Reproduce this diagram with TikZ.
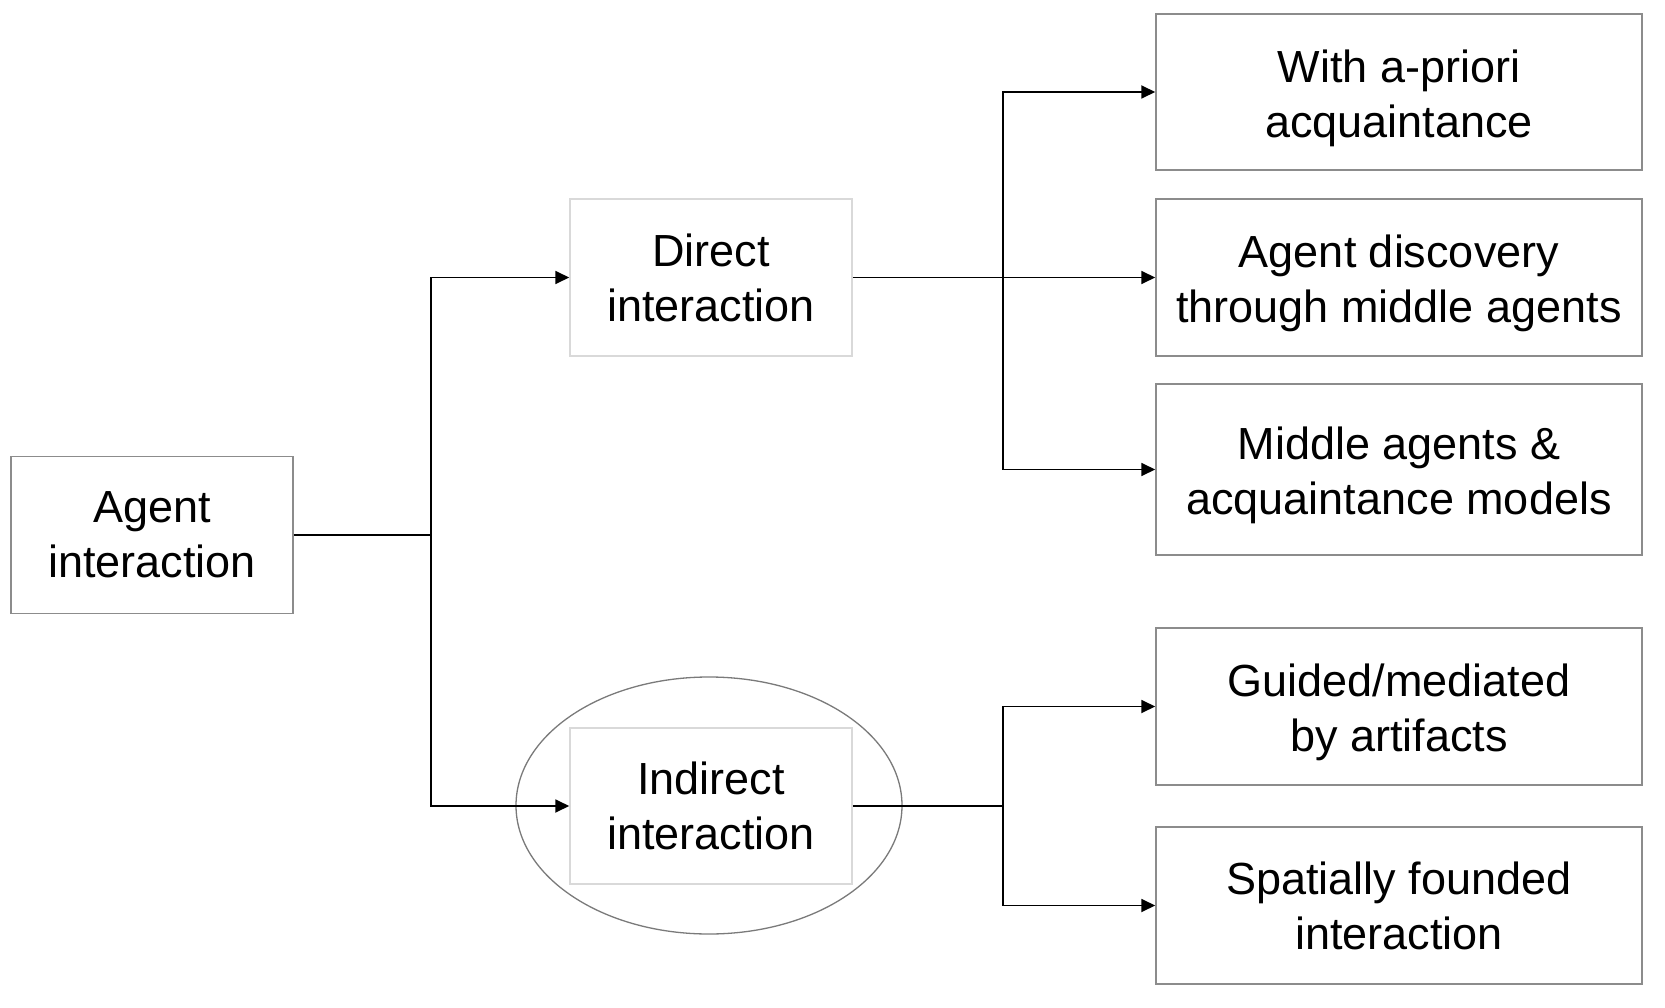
\documentclass[tikz,border=0pt]{standalone}
\usepackage{fontspec}
\setmainfont{Liberation Sans}
\usetikzlibrary{arrows.meta}
\definecolor{boxgray}{HTML}{8C8C8C}
\definecolor{palegray}{HTML}{D9D9D9}
\definecolor{ringgray}{HTML}{7A7A7A}
\newcommand\leadstrut{\rule{0pt}{45pt}}
\begin{document}
\begin{tikzpicture}[x=1pt,y=-1pt,
    box/.style={draw=boxgray,line width=1.5pt,fill=white,align=center,inner sep=0pt,
      minimum height=157pt,font=\fontsize{45}{55}\selectfont},
    midbox/.style={box,draw=palegray,minimum width=282pt},
    leafbox/.style={box,minimum width=486pt},
    link/.style={line width=1.8pt},
    arrow/.style={link,-{Triangle[length=14pt,width=13pt]}}]
  \useasboundingbox (0,0) rectangle (1665,1008);
  \draw[ringgray,line width=1.3pt] (709,805.5) ellipse (193 and 128.5); %ellisse attorno al nodo indiretto
  \node[box,minimum width=282pt] (agent) at (152,535) {Agent\\interaction};
  \node[midbox] (direct) at (711,277.5) {Direct\\interaction};
  \node[midbox,minimum height=156pt] (indirect) at (711,806) {Indirect\\interaction};
  \node[leafbox,minimum height=156pt] (apriori) at (1399,92) {\leadstrut With a-priori\\acquaintance};
  \node[leafbox] (discovery) at (1399,277.5) {\leadstrut Agent discovery\\through middle agents};
  \node[leafbox,minimum height=171pt] (middle) at (1399,469.5) {\leadstrut Middle agents \&\\acquaintance models};
  \node[leafbox] (guided) at (1399,706.5) {\leadstrut Guided/mediated\\by artifacts};
  \node[leafbox] (spatial) at (1399,905.5) {Spatially founded\\interaction};
  \coordinate (split1) at (431,535);
  \coordinate (split2) at (1003,277.5);
  \coordinate (split3) at (1003,806);
  \draw[link] (agent.east) -- (split1); %primo livello
  \draw[arrow] (split1) |- (direct.west);
  \draw[arrow] (split1) |- (indirect.west);
  \draw[link] (direct.east) -- (split2); %interazione diretta
  \draw[arrow] (split2) |- (apriori.west);
  \draw[arrow] (split2) -- (discovery.west);
  \draw[arrow] (split2) |- (middle.west);
  \draw[link] (indirect.east) -- (split3); %interazione indiretta
  \draw[arrow] (split3) |- (guided.west);
  \draw[arrow] (split3) |- (spatial.west);
\end{tikzpicture}
\end{document}
